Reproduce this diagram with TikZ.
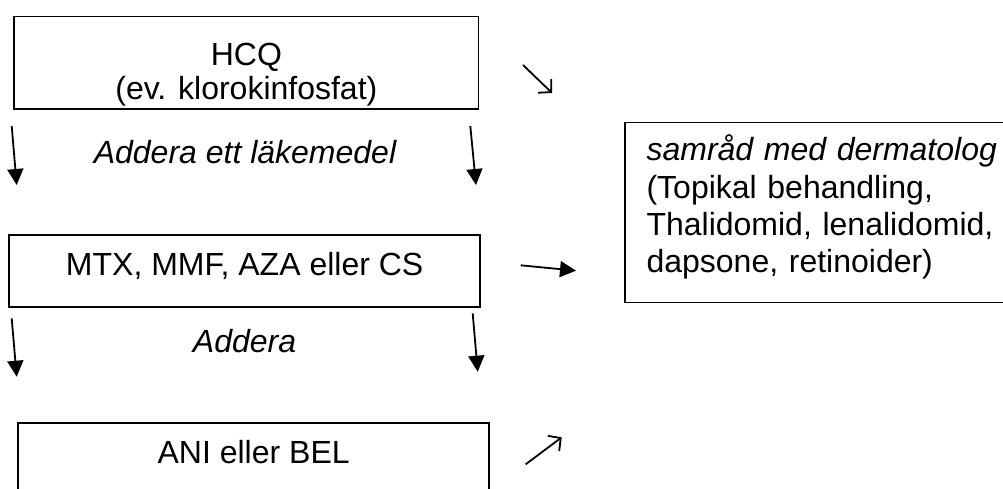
\documentclass[tikz,border=0pt]{standalone}
\usepackage{fontspec}
\setmainfont{Liberation Sans}
\usetikzlibrary{arrows.meta}
\begin{document}
\begin{tikzpicture}[x=1pt,y=-1pt,
  box/.style={draw, line width=1.7pt, inner sep=0pt, anchor=north west,
    font=\fontsize{32}{37.3}\selectfont},
  flow/.style={line width=1.8pt, -{Triangle[length=16pt,width=16pt]}},
  hint/.style={line width=1.8pt, -{Straight Barb[length=9pt,width=19pt]}},
  note/.style={font=\fontsize{32}{37.3}\selectfont\itshape, anchor=base, inner sep=0pt}]
\useasboundingbox (0,0) rectangle (1003,489);
\clip (0,0) rectangle (1003,489);

% treatment steps
\node[box, minimum width=464.4pt, minimum height=92.3pt, align=center,
      text height=80pt, text depth=6.1pt, font=\fontsize{32}{34}\selectfont]
      (hcq) at (13.3,15.7) {HCQ\\(ev. klorokinfosfat)};
\node[box, minimum width=471pt, minimum height=72pt,
      text height=24pt, text depth=15.4pt]
      (mtx) at (8.3,234) {MTX, MMF, AZA eller CS};
\node[box, minimum width=471pt, minimum height=90pt,
      text height=20pt, text depth=30pt]
      (ani) at (17.3,422.3) {ANI eller BEL};

% side box (runs past the right margin)
\node[box, text width=360pt, inner xsep=21.7pt, minimum height=180pt, align=left,
      text height=30pt, text depth=133.4pt]
      (derm) at (624,121.7)
      {\textit{samråd med dermatolog}\\(Topikal behandling,\\Thalidomid, lenalidomid,\\dapsone, retinoider)};

% labels between the steps
\node[note] (add1) at (245,164) {Addera ett läkemedel};
\node[note] (add2) at (244.5,352.3) {Addera};

% arrow end points
\coordinate (l1s) at (11.7,126);   \coordinate (l1e) at (16.7,185);
\coordinate (r1s) at (470.3,126);  \coordinate (r1e) at (476,185);
\coordinate (l2s) at (11.7,318.3); \coordinate (l2e) at (16.7,376.7);
\coordinate (r2s) at (472.7,313.3);\coordinate (r2e) at (477.7,371.7);
\coordinate (h1s) at (523,65);     \coordinate (h1e) at (552,93);
\coordinate (h2s) at (520.7,265.3);\coordinate (h2e) at (576,270.7);
\coordinate (h3s) at (525.7,464.3);\coordinate (h3e) at (561.7,437.3);

\draw[flow] (l1s) -- (l1e);
\draw[flow] (r1s) -- (r1e);
\draw[flow] (l2s) -- (l2e);
\draw[flow] (r2s) -- (r2e);
\draw[hint] (h1s) -- (h1e);
\draw[flow] (h2s) -- (h2e);
\draw[hint] (h3s) -- (h3e);
\end{tikzpicture}
\end{document}
